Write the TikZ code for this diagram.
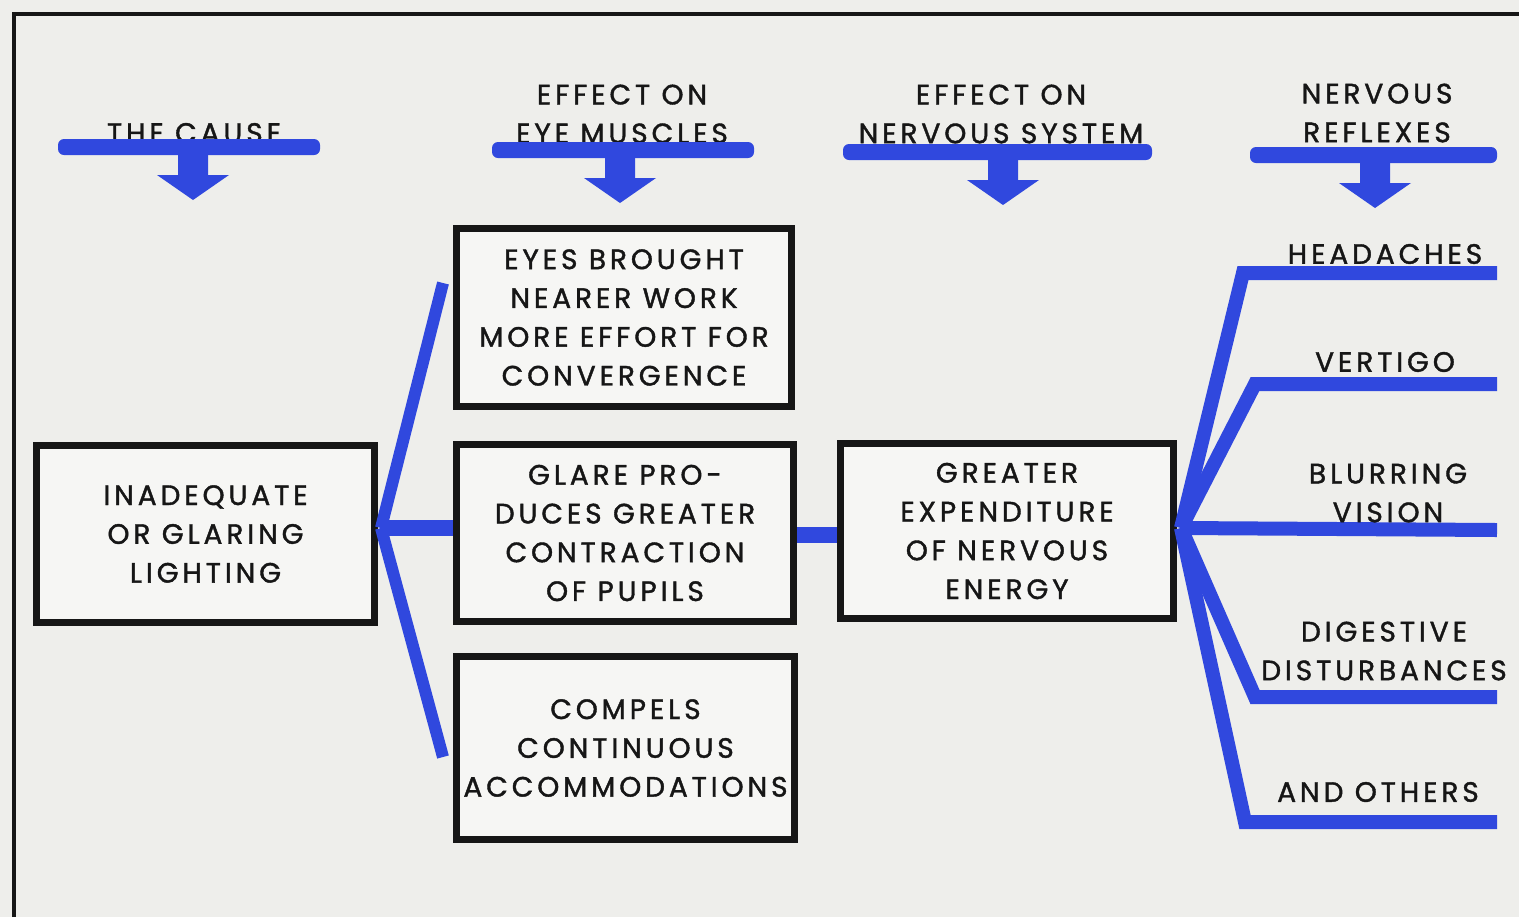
\documentclass[tikz,border=0pt]{standalone}
\usepackage{fontspec}
\setmainfont{Poppins}[LetterSpace=14,FakeBold=1.4]
\definecolor{paper}{RGB}{238,238,235}
\definecolor{boxfill}{RGB}{246,246,244}
\definecolor{ink}{RGB}{22,22,22}
\definecolor{blueink}{RGB}{48,72,222}
\newcommand\fs{\fontsize{14pt}{19.4pt}\selectfont}
\newcommand\headarrow[4]{%
  \fill[blueink, rounded corners=3pt] (#1,#3-8) rectangle (#2,#3+8);
  \fill[blueink] (#4-15,#3) -- (#4-15,#3+28) -- (#4-36,#3+28) -- (#4,#3+53)
     -- (#4+36,#3+28) -- (#4+15,#3+28) -- (#4+15,#3) -- cycle;}
\begin{document}
\begin{tikzpicture}[x=0.5pt,y=-0.5pt,
  box/.style={draw=ink, line width=3.5pt, fill=boxfill, align=center, inner sep=0pt, font=\fs, text=ink},
  lbl/.style={align=center, inner sep=0pt, font=\fs, text=ink},
  fan/.style={draw=blueink, line width=6pt, line join=miter},
  rfan/.style={draw=blueink, line width=7pt, line join=miter},
  bar/.style={draw=blueink, line width=8pt}]
\fill[paper] (0,0) rectangle (1519,917);
\useasboundingbox (0,0) rectangle (1519,917);
\draw[ink, line width=2pt] (14,917) -- (14,14) -- (1519,14);

% headers
\node[lbl] (h1) at (194,133) {THE CAUSE};
\node[lbl] (h2) at (622,114) {EFFECT ON\\EYE MUSCLES};
\node[lbl] (h3) at (1001,114) {EFFECT ON\\NERVOUS SYSTEM};
\node[lbl] (h4) at (1377,113) {NERVOUS\\REFLEXES};
\headarrow{58}{320}{147}{193}
\headarrow{492}{754}{150}{620}
\headarrow{843}{1152}{152}{1003}
\headarrow{1250}{1497}{155}{1375}

% boxes
\node[box, minimum width=169pt, minimum height=88.5pt] (A) at (205.5,534) {INADEQUATE\\OR GLARING\\LIGHTING};
\node[box, minimum width=167.5pt, minimum height=89pt] (B1) at (624,317.5) {EYES BROUGHT\\NEARER WORK\\MORE EFFORT FOR\\CONVERGENCE};
\node[box, minimum width=168.5pt, minimum height=88.5pt] (B2) at (625,533) {GLARE PRO-\\DUCES GREATER\\CONTRACTION\\OF PUPILS};
\node[box, minimum width=169pt, minimum height=91.5pt] (B3) at (625.5,748) {COMPELS\\CONTINUOUS\\ACCOMMODATIONS};
\node[box, minimum width=166.5pt, minimum height=87.5pt] (C) at (1007,531) {GREATER\\EXPENDITURE\\OF NERVOUS\\ENERGY};

% left fan
\coordinate (fa) at (381,528);
\coordinate (fu) at (443,283);
\coordinate (fd) at (443,757);
\draw[fan] (fa) -- (fu);
\draw[fan] (fa) -- (fd);
\draw[bar] (fa) -- (fa -| B2.west);
\draw[bar] (B2.east |- 0,535) -- (C.west |- 0,535);

% right fan
\coordinate (fr) at (1181,528);
\coordinate (k1) at (1243,273); \coordinate (e1) at (1497,273);
\coordinate (k2) at (1255,384); \coordinate (e2) at (1497,384);
\coordinate (e3) at (1497,530);
\coordinate (k4) at (1255,697); \coordinate (e4) at (1497,697);
\coordinate (k5) at (1245,822); \coordinate (e5) at (1497,822);
\draw[rfan] (fr) -- (k1) -- (e1);
\draw[rfan] (fr) -- (k2) -- (e2);
\draw[rfan] (fr) -- (e3);
\draw[rfan] (fr) -- (k4) -- (e4);
\draw[rfan] (fr) -- (k5) -- (e5);

% right labels
\node[lbl] (r1) at (1385,254) {HEADACHES};
\node[lbl] (r2) at (1385,362) {VERTIGO};
\node[lbl] (r3) at (1388,493) {BLURRING\\VISION};
\node[lbl] (r4) at (1384,651) {DIGESTIVE\\DISTURBANCES};
\node[lbl] (r5) at (1378,792) {AND OTHERS};
\end{tikzpicture}
\end{document}
